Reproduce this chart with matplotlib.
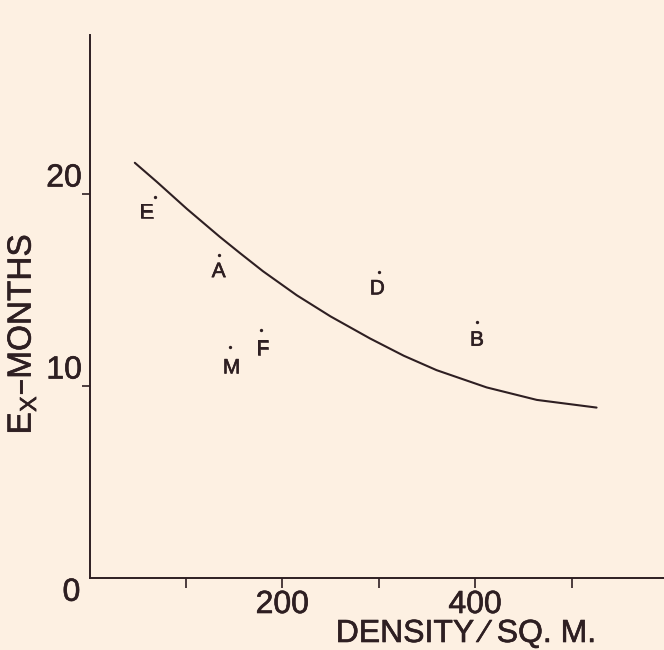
import matplotlib
matplotlib.use("Agg")
import matplotlib.pyplot as plt
import matplotlib.patheffects as pe

# ---- data ----
point_labels = ["E", "A", "M", "F", "D", "B"]
point_x = [68, 134, 146, 178, 300, 402]
point_y = [19.8, 16.8, 12.0, 12.9, 15.9, 13.3]

curve_x = [47, 70, 101, 135, 156, 180, 215, 250, 291, 326, 360, 412, 464, 526]
curve_y = [21.6, 20.6, 19.2, 17.75, 16.9, 15.95, 14.7, 13.6, 12.45, 11.55, 10.8, 9.9, 9.25, 8.85]

x_ticks = [100, 200, 300, 400, 500]
x_tick_labels = ["", "200", "", "400", ""]
y_ticks = [10, 20]
y_tick_labels = ["10", "20"]

# ---- style ----
BG = "#fdf0e2"
INK = "#2e1f22"
plt.rcParams["font.family"] = ["Liberation Sans", "DejaVu Sans"]
thick = [pe.withStroke(linewidth=0.45, foreground=INK)]

fig = plt.figure(figsize=(6.64, 6.5), dpi=100, facecolor=BG)
ax = fig.add_axes([89.5 / 664, 72.5 / 650, 1 - 89.5 / 664, (577.5 - 35) / 650])
ax.set_facecolor(BG)

ax.plot(curve_x, curve_y, color=INK, lw=1.5, solid_capstyle="round", solid_joinstyle="round")
ax.plot(point_x, point_y, "o", color=INK, ms=2.4, mew=0)

# label offsets in points (dx, dy) relative to each dot
offsets = {"E": (-6, -11), "A": (0, -12), "M": (1, -15), "F": (1, -14), "D": (-1, -12), "B": (0, -13)}
for lab, x, y in zip(point_labels, point_x, point_y):
    dx, dy = offsets[lab]
    ax.annotate(lab, (x, y), xytext=(dx, dy), textcoords="offset points",
                ha="center", va="center", fontsize=15, color=INK, path_effects=thick)

ax.set_xlim(0, (664 - 89.5) / 0.964)
ax.set_ylim(0, (577.5 - 35) / 19.2)

for s in ["top", "right"]:
    ax.spines[s].set_visible(False)
for s in ["left", "bottom"]:
    ax.spines[s].set_color(INK)
    ax.spines[s].set_linewidth(1.4)

ax.set_xticks(x_ticks)
ax.set_xticklabels(x_tick_labels)
ax.set_yticks(y_ticks)
ax.set_yticklabels(y_tick_labels)
ax.tick_params(axis="x", direction="out", length=7, width=1.2, color=INK,
               labelsize=23, labelcolor=INK, pad=2)
ax.tick_params(axis="y", direction="out", length=5.5, width=1.2, color=INK,
               labelsize=23, labelcolor=INK, pad=0)
for t in ax.get_yticklabels():
    t.set_verticalalignment("bottom")
    t.set_path_effects(thick)
for t in ax.get_xticklabels():
    t.set_path_effects(thick)

ax.annotate("0", (0, 0), xytext=(-13, -11), textcoords="offset points",
            ha="center", va="center", fontsize=23, color=INK, annotation_clip=False,
            path_effects=thick)

fig.text(22 / 664, (650 - 334) / 650, r"E$_\mathregular{X}$–MONTHS", rotation=90,
         ha="center", va="center", fontsize=24, color=INK, path_effects=thick)
fig.text(466 / 664, 8 / 650, "DENSITY ⁄ SQ. M.", ha="center", va="baseline",
         fontsize=23, color=INK, path_effects=thick)

fig.savefig("out.png", dpi=100, facecolor=BG)
